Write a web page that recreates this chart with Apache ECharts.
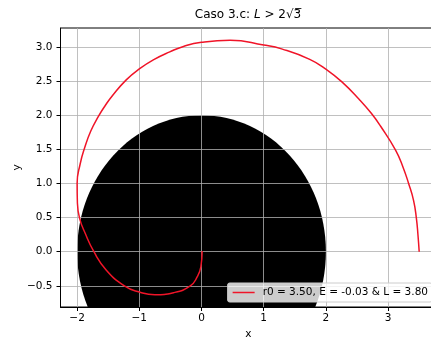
<!DOCTYPE html>
<html>
<head>
<meta charset="utf-8">
<script src="https://cdn.jsdelivr.net/npm/echarts@6/dist/echarts.min.js"></script>
<style>
  html, body { margin: 0; padding: 0; background: #fff; }
  #chart { width: 431px; height: 338px; }
</style>
</head>
<body>
<div id="chart"></div>
<script>
// Trajectory samples, from r0 = 3.5 on the x axis spiralling in to the origin
const orbitX = [3.50, 3.48, 3.455, 3.41, 3.33, 3.24, 3.12, 2.88, 2.73, 2.53, 2.27, 2.01, 1.74, 1.30, 1.00, 0.46, 0.00, -0.29, -0.51, -0.76, -1.00, -1.21, -1.43, -1.55, -1.66, -1.78, -1.88, -1.95, -2.00, -1.995, -1.96, -1.87, -1.73, -1.53, -1.24, -1.00, -0.75, -0.45, -0.18, -0.07, -0.01, 0.01];
const orbitY = [0.00, 0.25, 0.49, 0.75, 1.00, 1.24, 1.49, 1.84, 2.03, 2.24, 2.48, 2.67, 2.82, 2.97, 3.03, 3.10, 3.07, 3.01, 2.93, 2.82, 2.68, 2.52, 2.29, 2.14, 1.98, 1.77, 1.52, 1.29, 1.00, 0.71, 0.49, 0.27, 0.00, -0.27, -0.50, -0.59, -0.63, -0.60, -0.50, -0.37, -0.22, 0.01];

// Central body: filled disc of radius 2 at the origin
const holeCenter = [0, 0];
const holeRadius = 2;

const xTicks = [-2, -1, 0, 1, 2, 3];
const yTicks = [-0.5, 0, 0.5, 1, 1.5, 2, 2.5, 3];

const seriesName = 'r0 = 3.50, E = -0.03 & L = 3.80';

const orbit = orbitX.map((x, i) => [x, orbitY[i]]);
const FONT = 'DejaVu Sans';
const RED = '#f01428';
const minus = s => s.replace('-', '\u2212');

const chart = echarts.init(document.getElementById('chart'), null, { renderer: 'canvas' });

chart.setOption({
  animation: false,
  backgroundColor: '#fff',
  textStyle: { fontFamily: FONT },
  grid: {
    left: 60.5, right: -5.3, top: 28, bottom: 31,
    containLabel: false,
    outerBoundsMode: 'none',
    show: true, borderColor: '#000', borderWidth: 1, backgroundColor: 'transparent'
  },
  graphic: [{
    type: 'text',
    x: 248, y: 15,
    style: {
      text: '{a|Caso 3.c: }{i|L}{a| > 2\u221A3\u0305}',
      textAlign: 'center',
      textVerticalAlign: 'middle',
      rich: {
        a: { fontFamily: FONT, fontSize: 12, fill: '#000' },
        i: { fontFamily: FONT, fontSize: 12, fontStyle: 'italic', fill: '#000' }
      }
    }
  }],
  legend: {
    data: [{ name: seriesName, icon: 'rect' }],
    right: -1, bottom: 36,
    orient: 'horizontal',
    itemWidth: 22, itemHeight: 1.5,
    padding: [4, 4, 4, 5],
    backgroundColor: 'rgba(255,255,255,0.8)',
    borderColor: '#cccccc', borderWidth: 1, borderRadius: 2,
    itemStyle: { color: RED, borderWidth: 0 },
    textStyle: { fontFamily: FONT, fontSize: 10.5, color: '#000', padding: [0, 0, 0, 3] }
  },
  xAxis: {
    type: 'value',
    min: -2.267, max: 3.775,
    name: 'x', nameLocation: 'middle', nameGap: 21,
    nameTextStyle: { fontFamily: FONT, fontSize: 10.5, color: '#000' },
    axisLine: { show: true, onZero: false, lineStyle: { color: '#000', width: 1 } },
    axisTick: { show: true, length: 4, customValues: xTicks, lineStyle: { color: '#000' } },
    axisLabel: {
      customValues: xTicks, margin: 6,
      fontFamily: FONT, fontSize: 10.5, color: '#000',
      formatter: v => minus(String(v))
    },
    splitLine: { show: true, lineStyle: { color: '#b0b0b0', width: 0.8 } }
  },
  yAxis: {
    type: 'value',
    min: -0.81, max: 3.28,
    name: 'y', nameLocation: 'middle', nameGap: 38,
    nameMoveOverlap: false,
    nameTextStyle: { fontFamily: FONT, fontSize: 10.5, color: '#000' },
    axisLine: { show: true, onZero: false, lineStyle: { color: '#000', width: 1 } },
    axisTick: { show: true, length: 4, customValues: yTicks, lineStyle: { color: '#000' } },
    axisLabel: {
      customValues: yTicks, margin: 8,
      fontFamily: FONT, fontSize: 10.5, color: '#000',
      formatter: v => minus(v.toFixed(1))
    },
    splitLine: { show: true, lineStyle: { color: '#b0b0b0', width: 0.8 } }
  },
  series: [
    {
      type: 'custom',
      name: 'body',
      z: -1,
      silent: true,
      data: [[holeCenter[0], holeCenter[1], holeRadius]],
      renderItem: function (params, api) {
        const c = api.coord([api.value(0), api.value(1)]);
        const s = api.size([api.value(2), api.value(2)]);
        const cs = params.coordSys;
        return {
          type: 'ellipse',
          shape: { cx: c[0], cy: c[1], rx: s[0], ry: s[1] },
          style: { fill: '#000' },
          clipPath: { type: 'rect', shape: { x: cs.x, y: cs.y, width: cs.width, height: cs.height } }
        };
      }
    },
    {
      type: 'line',
      name: seriesName,
      data: orbit,
      symbol: 'none',
      smooth: 0.5,
      lineStyle: { color: RED, width: 1.5 },
      itemStyle: { color: RED },
      z: 2
    }
  ]
});
</script>
</body>
</html>
